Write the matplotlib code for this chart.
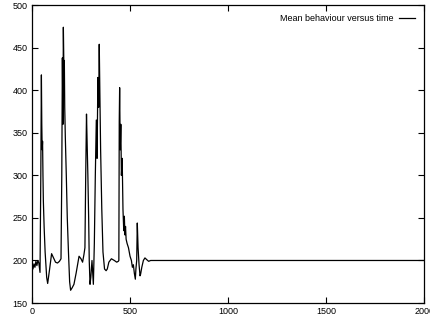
import matplotlib as mpl
mpl.use("Agg")
import matplotlib.pyplot as plt

# Mean behaviour over time
time = [
    0, 5, 10, 15, 20, 25, 30, 35, 41,
    45, 48, 50, 52, 54, 56, 58, 62, 67, 75, 80,
    90, 100, 110, 120, 130, 140, 148,
    152, 155, 158, 160, 163, 165, 167, 170, 175, 180, 186, 192, 197,
    205, 214, 225, 240, 250, 258, 265, 270,
    274, 278, 282, 285, 289, 292, 296, 300, 306, 313,
    318, 323, 328, 332, 336, 340, 343, 346, 350, 356, 362, 370, 378, 384,
    392, 405, 420, 432, 440, 443,
    445, 447, 450, 453, 456, 460, 464, 468, 471, 474, 477, 480, 485,
    492, 500, 507, 512, 517, 522, 527, 530, 534, 537, 541, 546, 551, 554,
    560, 568, 576, 585, 595, 605, 620, 700, 1000, 1500, 2000,
]
value = [
    198, 190, 196, 192, 199, 194, 200, 197, 186,
    300, 418, 360, 330, 340, 300, 270, 239, 210, 180, 173,
    190, 208, 203, 198, 197, 199, 202,
    300, 438, 360, 474, 420, 435, 380, 345, 300, 250, 210, 175, 165,
    168, 172, 185, 205, 202, 198, 207, 215,
    300, 372, 330, 300, 250, 200, 172, 180, 200, 172,
    220, 300, 365, 320, 415, 380, 454, 400, 330, 260, 210, 190, 188, 190,
    198, 202, 200, 198, 199, 200,
    363, 403, 330, 360, 300, 320, 260, 235, 252, 230, 240, 225, 220,
    215, 205, 200, 192, 195, 185, 178, 190, 200, 244, 215, 195, 182, 184,
    192, 200, 203, 201, 199, 200, 200, 200, 200, 200, 200,
]

plt.rcParams["font.family"] = ["Liberation Sans", "DejaVu Sans"]

fig = plt.figure(figsize=(4.31, 3.2), dpi=100)
ax = fig.add_axes([0.0742, 0.053, 0.910, 0.931])

ax.plot(time, value, color="black", linewidth=0.9, label="Mean behaviour versus time")

ax.set_xlim(0, 2000)
ax.set_ylim(150, 500)
ax.set_xticks([0, 500, 1000, 1500, 2000])
ax.set_yticks([150, 200, 250, 300, 350, 400, 450, 500])
ax.tick_params(direction="in", top=True, right=True, length=4, width=0.8,
               labelsize=6.5, pad=3)
for sp in ax.spines.values():
    sp.set_linewidth(0.9)

ax.legend(loc="upper right", frameon=False, markerfirst=False, fontsize=6.5,
          handlelength=1.8, handletextpad=0.6, borderaxespad=0.6)

fig.savefig("out.png", dpi=100)
